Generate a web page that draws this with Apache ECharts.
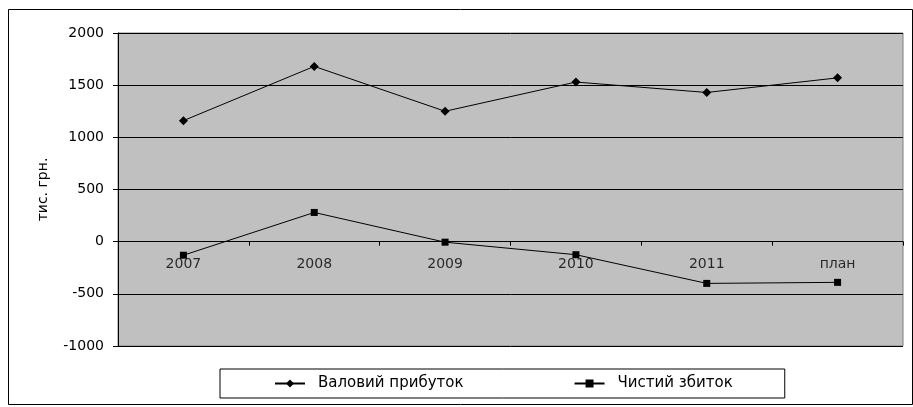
<!DOCTYPE html>
<html>
<head>
<meta charset="utf-8">
<script src="https://cdn.jsdelivr.net/npm/echarts@6/dist/echarts.min.js"></script>
<style>html,body{margin:0;padding:0;background:#fff;}#c{width:913px;height:407px;}</style>
</head>
<body>
<div id="c"></div>
<script>
const categories = ['2007', '2008', '2009', '2010', '2011', 'план'];
const grossProfit = [1160, 1680, 1250, 1530, 1430, 1570];
const netLoss = [-130, 280, -5, -125, -400, -390];
const seriesNames = ['Валовий прибуток', 'Чистий збиток'];
const yTicks = { min: -1000, max: 2000, interval: 500 };
const yName = 'тис. грн.';

const font = 'DejaVu Sans';
const chart = echarts.init(document.getElementById('c'), null, { renderer: 'canvas' });
chart.setOption({
  animation: false,
  backgroundColor: '#ffffff',
  textStyle: { fontFamily: font },
  graphic: [{
    type: 'rect', left: 6, top: 7, z: 100, silent: true,
    shape: { x: 0.5, y: 0.5, width: 904, height: 395 },
    style: { fill: 'none', stroke: '#000', lineWidth: 1 }
  }],
  grid: {
    left: 118, right: 10, top: 33, bottom: 61,
    show: true, backgroundColor: '#c0c0c0', borderColor: '#808080', borderWidth: 1
  },
  legend: {
    left: 220, top: 369,
    data: seriesNames,
    orient: 'horizontal',
    itemWidth: 30, itemHeight: 10, itemGap: 110,
    padding: [7, 52, 7, 54],
    borderColor: '#000', borderWidth: 1, backgroundColor: '#fff',
    textStyle: { fontFamily: font, fontSize: 15, color: '#000', padding: [0, 0, 0, 8] }
  },
  xAxis: {
    type: 'category', data: categories, boundaryGap: true,
    axisLine: { onZero: true, lineStyle: { color: '#000', width: 1 } },
    axisTick: { show: true, length: 4, inside: false, lineStyle: { color: '#000' } },
    axisLabel: { show: false },
    splitLine: { show: false }
  },
  yAxis: {
    type: 'value', min: yTicks.min, max: yTicks.max, interval: yTicks.interval,
    name: yName, nameLocation: 'middle', nameGap: 68, nameRotate: 90,
    nameTextStyle: { color: '#000', fontFamily: font, fontSize: 14 },
    axisLine: { show: true, lineStyle: { color: '#000', width: 1 } },
    axisTick: { show: true, length: 5, lineStyle: { color: '#000' } },
    axisLabel: { color: '#000', fontFamily: font, fontSize: 14, margin: 14, formatter: v => String(v) },
    splitLine: { show: true, lineStyle: { color: '#000', width: 1 } }
  },
  series: [
    {
      name: seriesNames[0], type: 'line', data: grossProfit,
      symbol: 'diamond', symbolSize: 9, showAllSymbol: true,
      lineStyle: { color: '#000', width: 1 }, itemStyle: { color: '#000' }, z: 5
    },
    {
      name: seriesNames[1], type: 'line', data: netLoss,
      symbol: 'rect', symbolSize: 7, showAllSymbol: true,
      lineStyle: { color: '#000', width: 1 }, itemStyle: { color: '#000' }, z: 5
    },
    {
      name: 'axisLabels', type: 'scatter', silent: true, symbolSize: 0, z: 3,
      data: categories.map(c => [c, 0]),
      label: {
        show: true, position: 'bottom', distance: 16,
        formatter: p => p.value[0],
        color: '#000', fontFamily: font, fontSize: 14
      }
    }
  ]
});
</script>
</body>
</html>
